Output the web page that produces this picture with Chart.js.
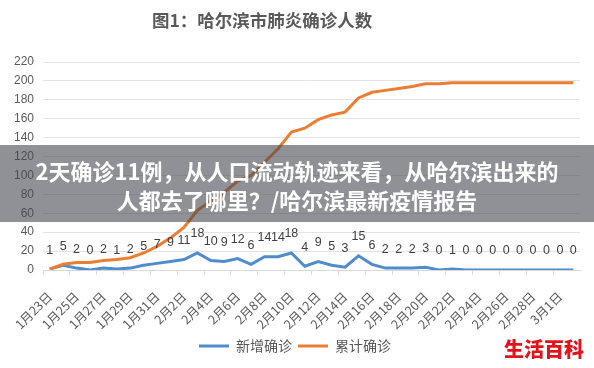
<!DOCTYPE html>
<html>
<head>
<meta charset="utf-8">
<script src="https://cdn.jsdelivr.net/npm/chart.js@4/dist/chart.umd.min.js"></script>
<style>
  body { margin: 0; background: #fff; }
  #wrap { position: relative; width: 594px; height: 368px; overflow: hidden; }
  #title {
    position: absolute; left: 152px; top: 9px; line-height: 22px;
    color: #595959; font-family: "Noto Sans CJK SC", sans-serif; font-weight: bold; font-size: 17.5px;
  }
  #banner {
    position: absolute; left: 0; top: 145px; width: 594px; height: 77px;
    background: rgba(70, 72, 80, 0.6);
    color: #fff; font-family: "Noto Sans CJK SC", sans-serif; font-weight: bold;
    font-size: 22px; line-height: 29px; text-align: center; padding-top: 11px; box-sizing: border-box;
  }
  #mark {
    position: absolute; left: 504px; top: 334px;
    color: #e3131b; font-family: "Noto Sans CJK SC", sans-serif; font-weight: 900; font-size: 20px;
  }
</style>
</head>
<body>
<div id="wrap">
  <canvas id="chart" width="594" height="368"></canvas>
  <div id="title">图1：哈尔滨市肺炎确诊人数</div>
  <div id="banner">2天确诊11例，从人口流动轨迹来看，从哈尔滨出来的<br>人都去了哪里？/哈尔滨最新疫情报告</div>
  <div id="mark">生活百科</div>
</div>
<script>
// 日期 1月23日 - 3月2日
const dates = [
    "1月23日", "1月24日", "1月25日", "1月26日", "1月27日", "1月28日", "1月29日", "1月30日",
    "1月31日", "2月1日", "2月2日", "2月3日", "2月4日", "2月5日", "2月6日", "2月7日",
    "2月8日", "2月9日", "2月10日", "2月11日", "2月12日", "2月13日", "2月14日", "2月15日",
    "2月16日", "2月17日", "2月18日", "2月19日", "2月20日", "2月21日", "2月22日", "2月23日",
    "2月24日", "2月25日", "2月26日", "2月27日", "2月28日", "2月29日", "3月1日", "3月2日"
];
const newCases = [1, 5, 2, 0, 2, 1, 2, 5, 7, 9, 11, 18, 10, 9, 12, 6, 14, 14, 18, 4,
    9, 5, 3, 15, 6, 2, 2, 2, 3, 0, 1, 0, 0, 0, 0, 0, 0, 0, 0, 0];
const totalCases = [1, 6, 8, 8, 10, 11, 13, 18, 25, 34, 45, 63, 73, 82, 94, 100, 114, 128, 146, 150,
    159, 164, 167, 182, 188, 190, 192, 194, 197, 197, 198, 198, 198, 198, 198, 198, 198, 198, 198, 198];
const yTicks = [0, 20, 40, 60, 80, 100, 120, 140, 160, 180, 200, 220];

const blue = "#4f8ccc";
const orange = "#ed7d31";
const grey = "#595959";

// 新增确诊 数据标签
const valueLabels = {
    id: "valueLabels",
    afterDatasetsDraw(chart) {
        const ctx = chart.ctx;
        const meta = chart.getDatasetMeta(0);
        ctx.save();
        ctx.font = "12.5px 'Liberation Sans', sans-serif";
        ctx.fillStyle = "#404040";
        ctx.textAlign = "center";
        ctx.textBaseline = "middle";
        meta.data.forEach((pt, i) => {
            ctx.fillText(String(newCases[i]), pt.x, pt.y - 19);
        });
        ctx.restore();
    }
};

new Chart(document.getElementById("chart"), {
    type: "line",
    data: {
        labels: dates,
        datasets: [{
            label: "新增确诊",
            data: newCases,
            borderColor: blue,
            backgroundColor: blue,
            borderWidth: 3,
            pointRadius: 0,
            tension: 0,
            order: 2
        }, {
            label: "累计确诊",
            data: totalCases,
            borderColor: orange,
            backgroundColor: orange,
            borderWidth: 3,
            pointRadius: 0,
            tension: 0,
            order: 1
        }]
    },
    options: {
        responsive: false,
        animation: false,
        layout: { padding: { left: 10, right: 14, top: 62, bottom: 5 } },
        plugins: {
            title: { display: false },
            legend: {
                position: "bottom",
                labels: {
                    usePointStyle: true,
                    pointStyle: "line",
                    pointStyleWidth: 30,
                    color: grey,
                    padding: 6,
                    font: { family: "'Noto Sans CJK SC', sans-serif", size: 14 },
                    sort: (a, b) => a.datasetIndex - b.datasetIndex
                }
            },
            tooltip: { enabled: false }
        },
        scales: {
            x: {
                offset: true,
                grid: {
                    offset: true,
                    drawOnChartArea: false,
                    drawTicks: true,
                    tickLength: 5,
                    color: ctx => (ctx.index % 2 === 0 ? "#d9d9d9" : "rgba(0,0,0,0)")
                },
                border: { color: "#d9d9d9" },
                ticks: {
                    autoSkip: false,
                    minRotation: 45,
                    maxRotation: 45,
                    padding: 14,
                    color: grey,
                    font: { family: "'Noto Sans CJK SC', sans-serif", size: 12.5 },
                    callback: function (v, i) { return i % 2 === 0 ? dates[i] : ""; }
                },
                afterFit: scale => { scale.height = 63; scale.paddingRight = 0; }
            },
            y: {
                min: 0,
                max: 220,
                afterBuildTicks: axis => { axis.ticks = yTicks.map(v => ({ value: v })); },
                grid: { color: "#e3e3e3", drawTicks: false },
                border: { display: false },
                ticks: {
                    padding: 9,
                    color: grey,
                    font: { family: "'Liberation Sans', sans-serif", size: 12 }
                },
                afterFit: scale => { scale.width = 33; }
            }
        }
    },
    plugins: [valueLabels]
});
</script>
</body>
</html>
